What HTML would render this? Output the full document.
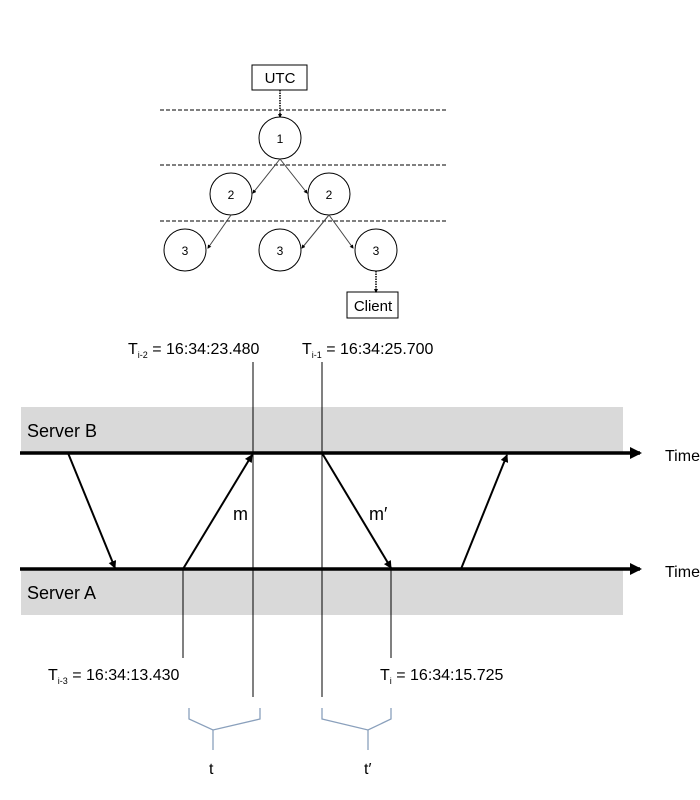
<!DOCTYPE html>
<html><head><meta charset="utf-8"><style>
html,body{margin:0;padding:0;background:#fff;}
svg{display:block;font-family:"Liberation Sans",sans-serif;}
</style></head><body>
<svg width="700" height="800" viewBox="0 0 700 800" xmlns="http://www.w3.org/2000/svg">
<defs>
<marker id="ah" markerWidth="8" markerHeight="8" refX="7" refY="4" orient="auto" markerUnits="userSpaceOnUse"><path d="M0,0 L8,4 L0,8 Z" fill="#000"/></marker>
<marker id="big" markerWidth="12" markerHeight="12" refX="10" refY="6" orient="auto" markerUnits="userSpaceOnUse"><path d="M0,0 L12,6 L0,12 Z" fill="#000"/></marker>
<marker id="sm" markerWidth="4" markerHeight="4" refX="3" refY="2" orient="auto" markerUnits="userSpaceOnUse"><path d="M0,0 L4,2 L0,4 Z" fill="#000"/></marker>
</defs>
<!-- tree -->
<g stroke="#000" stroke-width="1" fill="none">
<line x1="160" y1="110" x2="447" y2="110" stroke-dasharray="4,2"/>
<line x1="160" y1="165" x2="447" y2="165" stroke-dasharray="4,2"/>
<line x1="160" y1="221" x2="447" y2="221" stroke-dasharray="4,2"/>
<rect x="252" y="65" width="55" height="25" fill="#fff"/>
<rect x="347" y="292" width="51" height="26" fill="#fff"/>
<line x1="280" y1="90" x2="280" y2="117" stroke-dasharray="1.5,1" stroke-width="1.5" marker-end="url(#sm)"/>
<line x1="376" y1="271" x2="376" y2="292" stroke-dasharray="1.5,1" stroke-width="1.5" marker-end="url(#sm)"/>
<circle cx="280" cy="138" r="21" fill="#fff"/>
<circle cx="231" cy="194" r="21" fill="#fff"/>
<circle cx="329" cy="194" r="21" fill="#fff"/>
<circle cx="185" cy="250" r="21" fill="#fff"/>
<circle cx="280" cy="250" r="21" fill="#fff"/>
<circle cx="376" cy="250" r="21" fill="#fff"/>
<g stroke="#444" marker-end="url(#sm)">
<line x1="280" y1="159" x2="253" y2="193"/>
<line x1="280" y1="159" x2="307" y2="193"/>
<line x1="231" y1="215" x2="208" y2="248"/>
<line x1="329" y1="215" x2="302" y2="248"/>
<line x1="329" y1="215" x2="353" y2="248"/>
</g>
</g>
<g font-size="13" text-anchor="middle" fill="#000">
<text x="280" y="83" font-size="15">UTC</text>
<text x="373" y="311" font-size="15">Client</text>
<text x="280" y="143" font-size="12">1</text>
<text x="231" y="199" font-size="12">2</text>
<text x="329" y="199" font-size="12">2</text>
<text x="185" y="255" font-size="12">3</text>
<text x="280" y="255" font-size="12">3</text>
<text x="376" y="255" font-size="12">3</text>
</g>
<!-- bands -->
<rect x="21" y="407" width="602" height="46" fill="#d9d9d9"/>
<rect x="21" y="569" width="602" height="46" fill="#d9d9d9"/>
<g font-size="18" fill="#000">
<text x="27" y="437">Server B</text>
<text x="27" y="599">Server A</text>
<text x="665" y="461" font-size="16">Time</text>
<text x="665" y="577" font-size="16">Time</text>
<text x="233" y="520">m</text>
<text x="369" y="520">m′</text>
</g>
<g stroke="#000" stroke-width="1">
<line x1="253" y1="362" x2="253" y2="697"/>
<line x1="322" y1="362" x2="322" y2="697"/>
<line x1="183" y1="569" x2="183" y2="658"/>
<line x1="391" y1="569" x2="391" y2="658"/>
</g>
<g stroke="#000" stroke-width="3.5">
<line x1="20" y1="453" x2="640" y2="453" marker-end="url(#big)"/>
<line x1="20" y1="569" x2="640" y2="569" marker-end="url(#big)"/>
</g>
<g stroke="#000" stroke-width="2" marker-end="url(#ah)">
<line x1="68" y1="453" x2="115" y2="568"/>
<line x1="183" y1="569" x2="252" y2="455"/>
<line x1="322" y1="453" x2="391" y2="568"/>
<line x1="461" y1="569" x2="507" y2="455"/>
</g>
<g font-size="16" fill="#000">
<text x="128" y="354">T<tspan font-size="9" dy="4">i-2</tspan><tspan dy="-4"> = 16:34:23.480</tspan></text>
<text x="302" y="354">T<tspan font-size="9" dy="4">i-1</tspan><tspan dy="-4"> = 16:34:25.700</tspan></text>
<text x="48" y="680">T<tspan font-size="9" dy="4">i-3</tspan><tspan dy="-4"> = 16:34:13.430</tspan></text>
<text x="380" y="680">T<tspan font-size="9" dy="4">i</tspan><tspan dy="-4"> = 16:34:15.725</tspan></text>
<text x="209" y="774">t</text>
<text x="364" y="774">t′</text>
</g>
<g stroke="#8aa0bc" stroke-width="1.3" fill="none">
<polyline points="189,708 189,719 213,730 260,719 260,708"/>
<line x1="213" y1="730" x2="213" y2="750"/>
<polyline points="322,708 322,719 368,730 391,719 391,708"/>
<line x1="368" y1="730" x2="368" y2="750"/>
</g>
</svg>
</body></html>
